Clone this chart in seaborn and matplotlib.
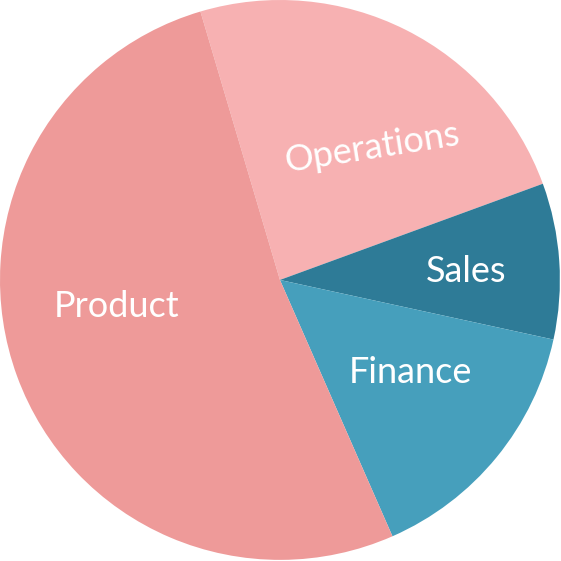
import matplotlib
matplotlib.use("Agg")
import matplotlib.pyplot as plt
import seaborn as sns

# data
departments = ["Operations", "Sales", "Finance", "Product"]
shares = [24, 9, 15, 52]
slice_colors = ["#F7B1B2", "#2E7B97", "#469FBC", "#EE9A99"]

# label placement (data coords) and rotation
label_xy = [(0.33, 0.47), (0.665, 0.03), (0.465, -0.33), (-0.585, -0.095)]
label_rot = [9, 0, 0, 0]

sns.set_theme(style="white")
plt.rcParams["font.family"] = ["Lato", "DejaVu Sans"]

palette = sns.color_palette(slice_colors)

fig = plt.figure(figsize=(5.61, 5.61), dpi=100)
ax = fig.add_axes([0, 0, 1, 1])

ax.pie(shares, colors=palette, startangle=106.5, counterclock=False,
       radius=1.0, wedgeprops=dict(linewidth=0))

for name, (x, y), rot in zip(departments, label_xy, label_rot):
    ax.text(x, y, name, ha="center", va="center", color="white",
            fontsize=26, fontweight="normal", rotation=rot)

ax.set_xlim(-1.0, 1.004)
ax.set_ylim(-1.004, 1.0)
ax.set_aspect("equal")
ax.axis("off")

fig.savefig("out.png", dpi=100)
